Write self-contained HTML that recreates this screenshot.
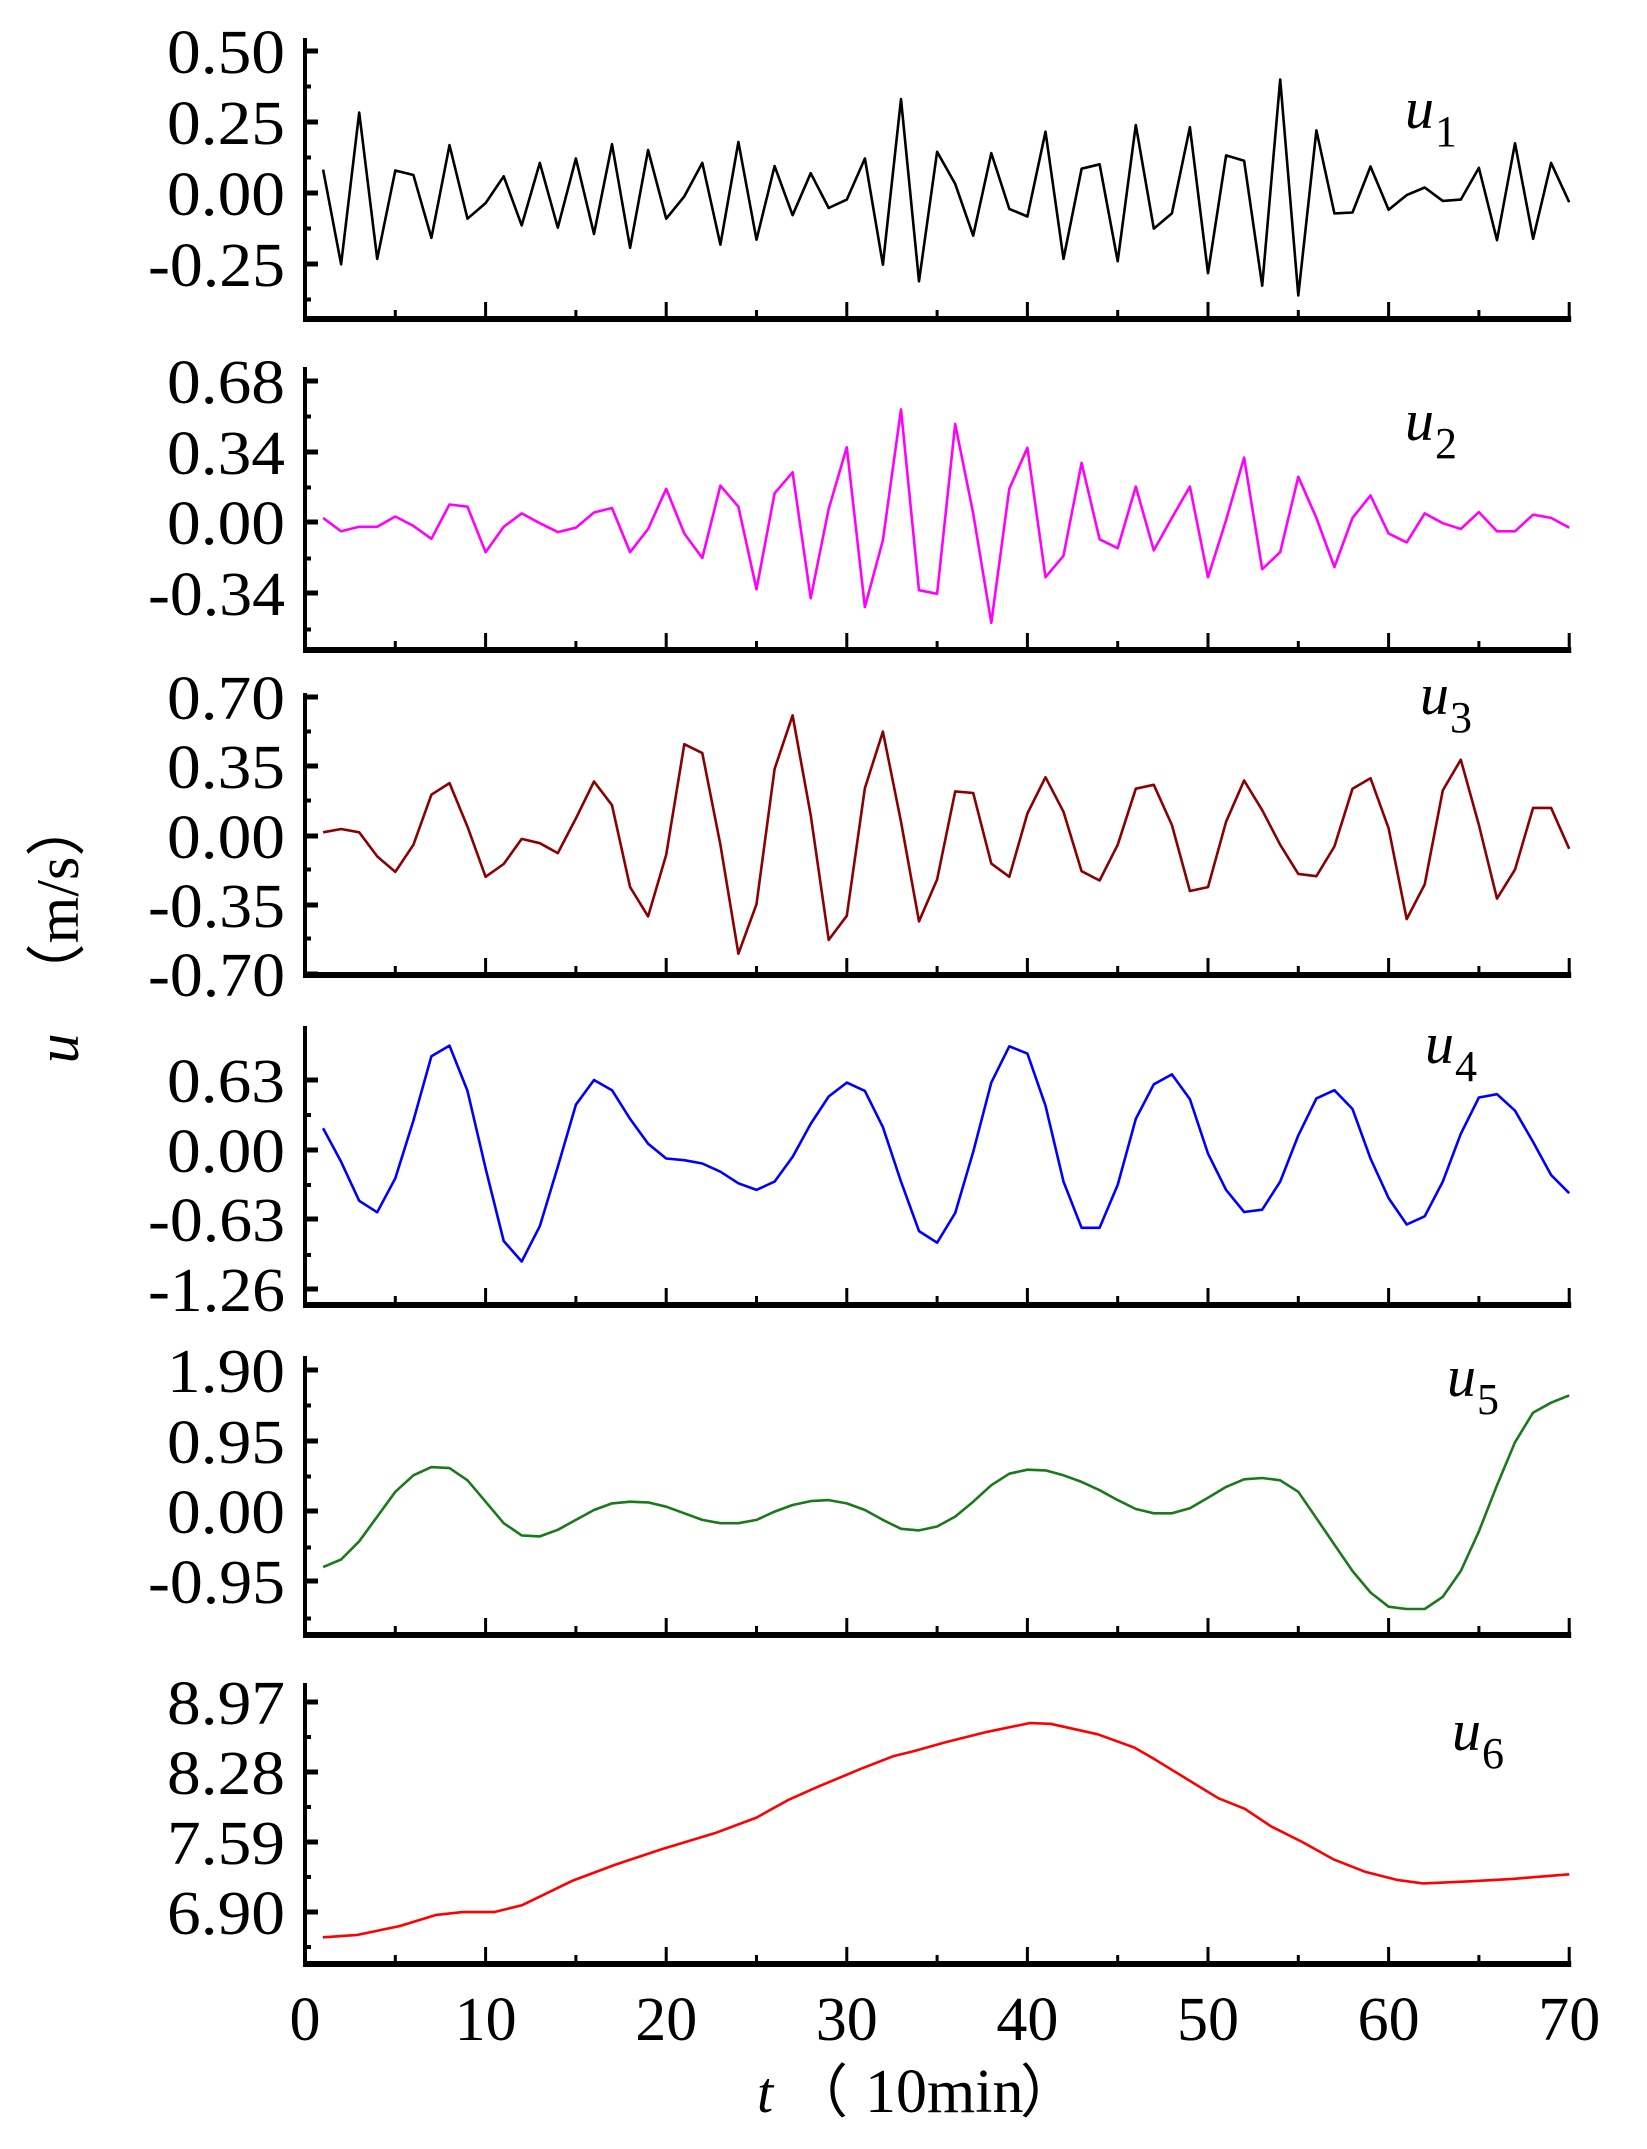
<!DOCTYPE html>
<html><head><meta charset="utf-8">
<style>
html,body{margin:0;padding:0;background:#fff;}
svg{display:block;}
text{font-family:"Liberation Serif","Times New Roman",serif;fill:#000;}
</style></head>
<body>
<svg id="s" width="1647" height="2149" viewBox="0 0 1647 2149" xmlns="http://www.w3.org/2000/svg"></svg>
<script>
const S=document.getElementById('s');
const NS='http://www.w3.org/2000/svg';
function el(n,a,t){const e=document.createElementNS(NS,n);for(const k in a)e.setAttribute(k,a[k]);if(t!==undefined)e.textContent=t;S.appendChild(e);return e;}
const X0=305,DX=18.06;
function xt(t){return X0+t*DX;}
const FF='"Liberation Serif","Times New Roman",serif';
const panels=[
 {top:38,base:319,ticks:[51,122,193,264],labels:["0.50","0.25","0.00","-0.25"],color:"#000",lab:"1",lx:1405,ly:128,
  yd:[380,592,252,580,382,392,533,325,490,455,395,505,365,510,355,524,323,555,336,490,440,365,548,318,537,372,482,388,466,447,355,593,222,630,340,412,528,343,468,485,295,580,378,368,585,280,512,478,285,612,348,360,640,178,662,292,478,476,373,470,437,420,450,447,376,538,321,535,365,453],f:v=>v/2.24},
 {top:367,base:650,ticks:[381,452,522,593],labels:["0.68","0.34","0.00","-0.34"],color:"#ff00ff",lab:"2",lx:1405,ly:440,
  yd:[1160,1190,1180,1180,1157,1178,1207,1130,1135,1237,1180,1150,1172,1192,1182,1148,1138,1237,1185,1095,1195,1250,1088,1135,1320,1105,1058,1340,1140,1002,1360,1210,917,1322,1330,950,1150,1395,1095,1003,1293,1245,1037,1208,1228,1090,1233,1160,1090,1293,1165,1025,1275,1237,1068,1160,1270,1160,1110,1195,1215,1150,1172,1185,1147,1190,1190,1153,1160,1182],f:v=>v/2.24},
 {top:693,base:975,ticks:[697,766,836,905,974],labels:["0.70","0.35","0.00","-0.35","-0.70"],color:"#8b0000",lab:"3",lx:1420,ly:714,
  yd:[522,512,522,595,642,560,408,373,505,657,618,542,555,585,480,368,440,688,777,590,255,282,560,890,740,330,168,470,848,775,388,217,490,792,665,398,403,617,657,465,355,460,640,668,560,390,378,500,700,688,490,365,455,560,648,655,565,390,358,510,785,680,395,302,500,723,635,448,448,572],f:v=>660+v/3.03},
 {top:1026,base:1305,ticks:[1080,1150,1219,1289],labels:["0.63","0.00","-0.63","-1.26"],color:"#0000ff",lab:"4",lx:1425,ly:1063,
  yd:[358,460,578,613,510,335,140,108,245,480,700,762,655,475,287,212,243,330,405,450,455,465,490,525,545,520,445,345,262,220,245,355,520,670,705,615,430,220,110,132,290,520,660,660,530,330,225,195,270,435,545,612,605,520,380,268,243,300,450,570,650,625,520,375,265,255,305,400,500,555],f:v=>1010+v/3.03},
 {top:1356,base:1635,ticks:[1370,1441,1511,1581],labels:["1.90","0.95","0.00","-0.95"],color:"#1a7a1a",lab:"5",lx:1447,ly:1396,
  yd:[688,665,610,535,460,410,385,388,425,490,555,592,595,575,545,515,495,490,492,505,525,545,555,555,545,520,500,488,485,495,515,545,572,577,565,535,490,440,405,393,395,410,430,455,485,512,525,525,510,478,445,422,418,425,460,540,620,700,765,808,815,815,778,700,580,440,310,220,190,168],f:v=>1340+v/3.03},
 {top:1683,base:1964,ticks:[1702,1772,1842,1912],labels:["8.97","8.28","7.59","6.90"],color:"#ff0000",lab:"6",lx:1452,ly:1750}
];
const u6=[[307,972],[340,965],[380,940],[415,908],[440,900],[470,900],[497,880],[545,810],[585,765],[630,720],[680,675],[720,630],[750,580],[780,540],[820,490],[850,455],[870,440],[900,415],[940,385],[980,360],[1000,362],[1045,392],[1080,430],[1100,465],[1130,520],[1160,575],[1185,605],[1210,655],[1240,700],[1270,750],[1300,785],[1330,808],[1355,818],[1400,812],[1440,805],[1494,792]];
panels.forEach((p,i)=>{
  el('line',{x1:X0,y1:p.top,x2:X0,y2:p.base+3,stroke:'#000','stroke-width':4});
  el('line',{x1:X0-2,y1:p.base,x2:X0+70*DX+2,y2:p.base,stroke:'#000','stroke-width':6});
  for(let k=0;k<=14;k++){const x=X0+k*5*DX;const L=(k%2==0)?17:9;
    el('line',{x1:x,y1:p.base,x2:x,y2:p.base-L,stroke:'#000','stroke-width':3});}
  const sp=p.ticks[1]-p.ticks[0];
  p.ticks.forEach((y,j)=>{
    el('line',{x1:X0,y1:y,x2:X0+13,y2:y,stroke:'#000','stroke-width':5});
    el('text',{x:285,y:y+22,'text-anchor':'end','font-size':62,'font-family':FF,textLength:p.labels[j].length>4?137:118,lengthAdjust:'spacingAndGlyphs'},p.labels[j]);
  });
  for(let y=p.ticks[0]+sp/2;y<p.base-4;y+=sp){el('line',{x1:X0,y1:y,x2:X0+6,y2:y,stroke:'#000','stroke-width':4});}
  let pts;
  if(p.yd){pts=p.yd.map((v,k)=>xt(k+1).toFixed(1)+','+p.f(v).toFixed(1)).join(' ');}
  else{pts=u6.map(a=>(X0+(a[0]-290)/17.2*DX).toFixed(1)+','+(1597+a[1]/2.856).toFixed(1)).join(' ');}
  el('polyline',{points:pts,fill:'none',stroke:p.color,'stroke-width':2.6,'stroke-linejoin':'round'});
  el('text',{x:p.lx,y:p.ly,'font-size':58,'font-style':'italic','font-family':FF},'u');
  el('text',{x:p.lx+30,y:p.ly+18,'font-size':44,'font-family':FF},p.lab);
});
for(let k=0;k<=7;k++){el('text',{x:X0+k*10*DX,y:2040,'text-anchor':'middle','font-size':62,'font-family':FF},String(k*10));}
el('text',{x:757,y:2112,'font-size':58,'font-style':'italic','font-family':FF},'t');
el('text',{x:790,y:2112,'font-size':58,'font-family':'"Noto Serif CJK SC",serif'},'\uFF08');
el('text',{x:865,y:2112,'font-size':62,'font-family':FF},'10min');
el('text',{x:1020,y:2112,'font-size':58,'font-family':'"Noto Serif CJK SC",serif'},'\uFF09');
const g=document.createElementNS(NS,'text');
g.setAttribute('transform','translate(78,930) rotate(-90)');
g.setAttribute('font-size','60');g.setAttribute('text-anchor','middle');
g.setAttribute('font-family',FF);
g.innerHTML='<tspan font-style="italic">u</tspan><tspan dx="30">\uFF08m/s\uFF09</tspan>';
S.appendChild(g);
</script>
</body></html>
